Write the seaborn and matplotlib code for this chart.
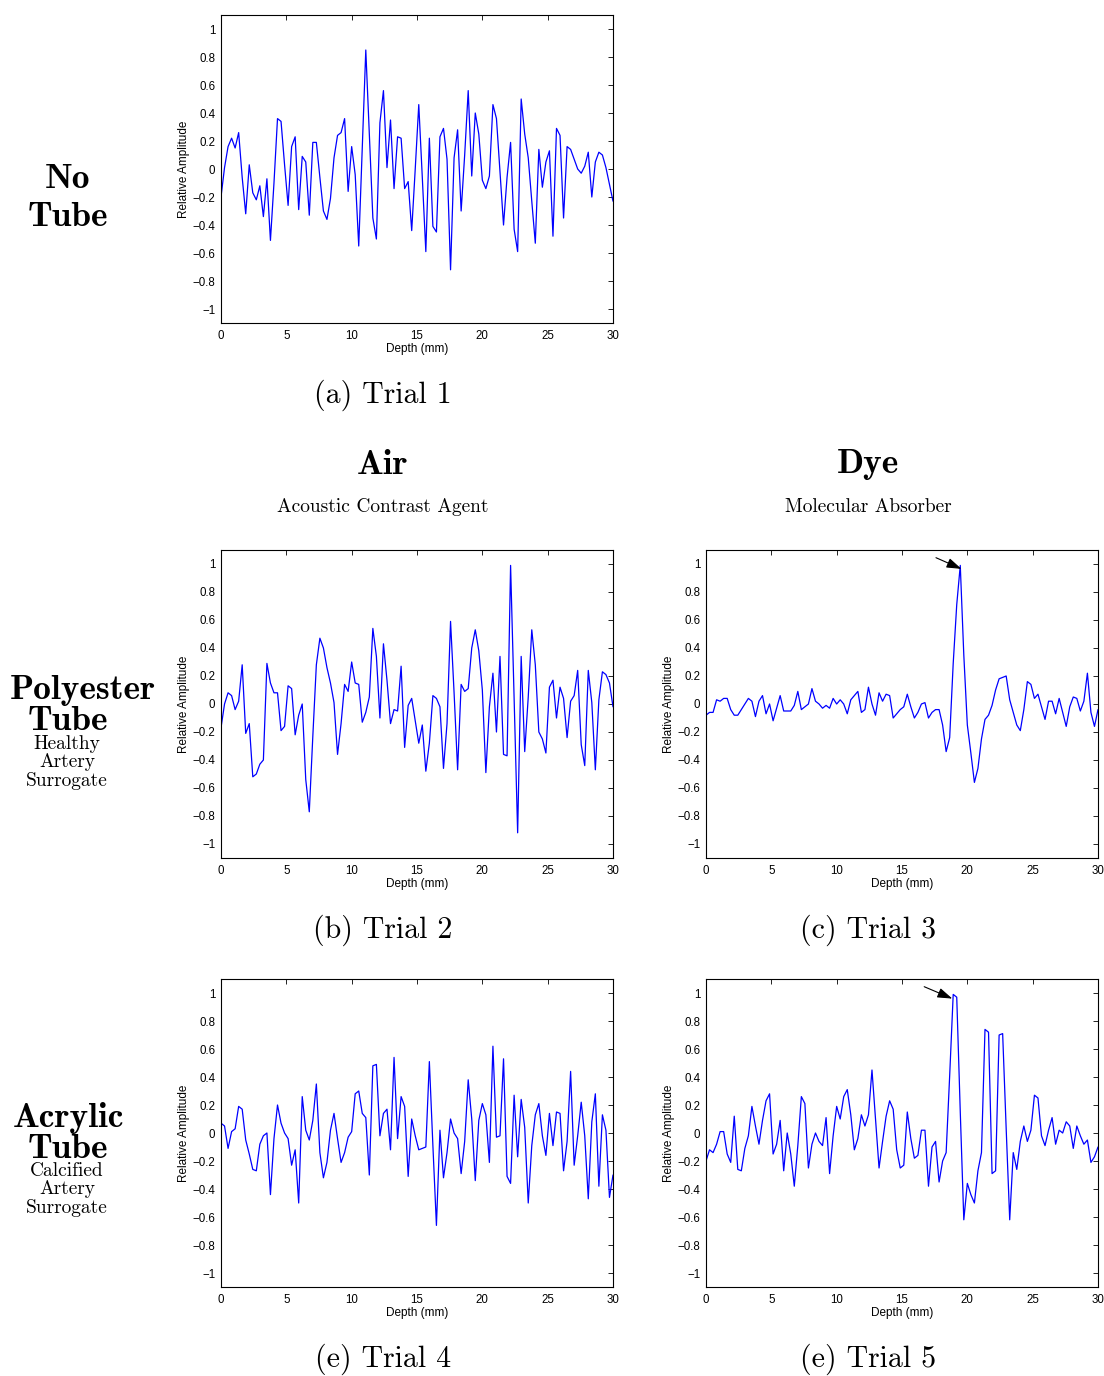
import numpy as np
import pandas as pd
import matplotlib
matplotlib.use("Agg")
import matplotlib.pyplot as plt
import seaborn as sns

# ---------------- data ----------------
trial1_no_tube = [
    -0.20, 0.01, 0.16, 0.22, 0.15, 0.26, -0.06, -0.32, 0.03, -0.17,
    -0.22, -0.12, -0.34, -0.07, -0.51, -0.10, 0.36, 0.34, 0.03, -0.26,
    0.16, 0.23, -0.29, 0.09, 0.05, -0.33, 0.19, 0.19, -0.06, -0.30,
    -0.36, -0.21, 0.08, 0.24, 0.26, 0.36, -0.16, 0.16, -0.04, -0.55,
    0.15, 0.85, 0.25, -0.35, -0.50, 0.33, 0.56, 0.01, 0.35, -0.14,
    0.23, 0.22, -0.14, -0.09, -0.44, 0.00, 0.46, -0.06, -0.59, 0.22,
    -0.41, -0.45, 0.23, 0.29, 0.07, -0.72, 0.08, 0.28, -0.30, 0.10,
    0.56, -0.05, 0.40, 0.25, -0.08, -0.14, -0.05, 0.46, 0.36, -0.02,
    -0.40, -0.06, 0.19, -0.43, -0.59, 0.50, 0.25, 0.08, -0.23, -0.53,
    0.14, -0.13, 0.05, 0.13, -0.48, 0.29, 0.24, -0.35, 0.16, 0.14,
    0.07, 0.00, -0.03, 0.02, 0.12, -0.20, 0.05, 0.12, 0.10, 0.01,
    -0.11, -0.23]

trial2_polyester_air = [
    -0.17, 0.00, 0.08, 0.06, -0.04, 0.02, 0.28, -0.21, -0.14, -0.52,
    -0.50, -0.43, -0.40, 0.29, 0.15, 0.08, 0.08, -0.19, -0.16, 0.13,
    0.11, -0.22, -0.08, 0.00, -0.54, -0.77, -0.23, 0.28, 0.47, 0.40,
    0.26, 0.15, 0.01, -0.36, -0.14, 0.14, 0.09, 0.30, 0.15, 0.14,
    -0.13, -0.06, 0.05, 0.54, 0.34, -0.10, 0.43, 0.17, -0.14, -0.04,
    -0.05, 0.27, -0.31, -0.01, 0.04, -0.12, -0.28, -0.15, -0.48, -0.28,
    0.06, 0.04, -0.02, -0.46, -0.14, 0.59, 0.08, -0.47, 0.14, 0.09,
    0.11, 0.40, 0.53, 0.38, 0.10, -0.49, -0.02, 0.22, -0.20, 0.34,
    -0.36, -0.37, 0.99, 0.04, -0.92, 0.34, -0.34, 0.05, 0.53, 0.28,
    -0.20, -0.25, -0.35, 0.12, 0.17, -0.10, 0.12, 0.04, -0.24, 0.02,
    0.06, 0.24, -0.29, -0.44, 0.24, 0.01, -0.47, 0.03, 0.23, 0.21,
    0.15, -0.02]

trial3_polyester_dye = [
    -0.08, -0.06, -0.06, 0.03, 0.02, 0.04, 0.04, -0.04, -0.08, -0.08,
    -0.04, 0.00, 0.04, 0.02, -0.09, 0.02, 0.06, -0.07, 0.00, -0.12,
    -0.03, 0.06, -0.05, -0.05, -0.05, -0.01, 0.09, -0.04, -0.02, 0.00,
    0.11, 0.02, 0.00, -0.03, -0.01, -0.03, 0.04, 0.00, 0.03, 0.00,
    -0.07, 0.03, 0.06, 0.09, -0.06, -0.04, 0.12, 0.00, -0.08, 0.08,
    0.02, 0.07, 0.06, -0.10, -0.07, -0.04, -0.02, 0.07, -0.02, -0.10,
    -0.06, 0.00, 0.01, -0.10, -0.06, -0.04, -0.04, -0.15, -0.34, -0.24,
    0.29, 0.71, 0.99, 0.35, -0.15, -0.35, -0.56, -0.46, -0.25, -0.11,
    -0.08, -0.01, 0.10, 0.18, 0.19, 0.20, 0.03, -0.06, -0.15, -0.19,
    -0.04, 0.16, 0.14, 0.04, 0.07, -0.02, -0.11, 0.02, 0.02, -0.07,
    0.04, -0.06, -0.16, -0.02, 0.05, 0.04, -0.05, 0.02, 0.22, -0.06,
    -0.16, -0.04]

trial4_acrylic_air = [
    0.07, 0.05, -0.11, 0.01, 0.03, 0.19, 0.17, -0.05, -0.15, -0.26,
    -0.27, -0.08, -0.02, 0.00, -0.44, -0.04, 0.20, 0.07, 0.00, -0.04,
    -0.23, -0.12, -0.50, 0.26, 0.02, -0.05, 0.09, 0.35, -0.14, -0.32,
    -0.21, 0.02, 0.14, -0.04, -0.21, -0.14, -0.03, 0.01, 0.28, 0.30,
    0.14, 0.11, -0.30, 0.48, 0.49, -0.02, 0.14, 0.17, -0.12, 0.54,
    -0.04, 0.26, 0.19, -0.31, 0.10, -0.02, -0.12, -0.11, -0.10, 0.51,
    -0.09, -0.66, 0.02, -0.32, -0.14, 0.10, 0.00, -0.04, -0.29, -0.06,
    0.38, 0.10, -0.34, 0.09, 0.21, 0.13, -0.21, 0.62, -0.03, -0.02,
    0.53, -0.31, -0.36, 0.27, -0.17, 0.24, 0.04, -0.50, -0.09, 0.13,
    0.21, -0.02, -0.16, 0.14, -0.09, 0.15, 0.14, -0.27, -0.06, 0.44,
    -0.23, -0.02, 0.22, -0.02, -0.47, 0.08, 0.28, -0.38, 0.13, 0.02,
    -0.46, -0.30]

trial5_acrylic_dye = [
    -0.20, -0.12, -0.14, -0.08, 0.01, 0.01, -0.15, -0.21, 0.12, -0.26,
    -0.27, -0.11, -0.02, 0.19, 0.05, -0.08, 0.09, 0.23, 0.28, -0.15,
    -0.08, 0.09, -0.27, 0.00, -0.15, -0.38, -0.09, 0.26, 0.21, -0.25,
    -0.08, 0.00, -0.06, -0.09, 0.11, -0.29, -0.02, 0.19, 0.10, 0.26,
    0.31, 0.13, -0.12, -0.04, 0.13, 0.05, 0.13, 0.45, 0.10, -0.25,
    -0.06, 0.12, 0.23, 0.17, -0.12, -0.25, -0.23, 0.15, -0.04, -0.18,
    -0.16, 0.02, 0.02, -0.38, -0.10, -0.06, -0.35, -0.20, -0.14, 0.41,
    0.99, 0.97, 0.15, -0.62, -0.36, -0.44, -0.50, -0.27, -0.14, 0.74,
    0.72, -0.29, -0.27, 0.70, 0.71, 0.03, -0.62, -0.14, -0.26, -0.06,
    0.05, -0.06, 0.02, 0.27, 0.25, -0.02, -0.09, 0.02, 0.11, -0.08,
    0.02, 0.00, 0.08, 0.05, -0.11, 0.05, -0.02, -0.08, -0.05, -0.21,
    -0.17, -0.10]

x_ticks = [0, 5, 10, 15, 20, 25, 30]
y_ticks = [-1, -0.8, -0.6, -0.4, -0.2, 0, 0.2, 0.4, 0.6, 0.8, 1]
y_tick_labels = ["\u22121", "\u22120.8", "\u22120.6", "\u22120.4", "\u22120.2", "0",
                 "0.2", "0.4", "0.6", "0.8", "1"]
x_label = "Depth (mm)"
y_label = "Relative Amplitude"

# ---------------- figure ----------------
sns.set_style("white")
plt.rcParams["font.family"] = ["Liberation Sans", "DejaVu Sans"]
plt.rcParams["text.color"] = "black"
plt.rcParams["axes.labelcolor"] = "black"
plt.rcParams["xtick.color"] = "black"
plt.rcParams["ytick.color"] = "black"

W, H = 1104, 1376
fig = plt.figure(figsize=(W / 100, H / 100), dpi=100)


def box(l, t, r, b):
    return [l / W, 1 - b / H, (r - l) / W, (b - t) / H]


def make_panel(rect, values):
    ax = fig.add_axes(rect)
    n = len(values)
    df = pd.DataFrame({"depth": np.linspace(0, 30, n), "amp": values})
    sns.lineplot(data=df, x="depth", y="amp", ax=ax, color="#0000FF",
                 linewidth=0.9, legend=False)
    ax.set_xlim(0, 30)
    ax.set_ylim(-1.1, 1.1)
    ax.set_xticks(x_ticks)
    ax.set_xticklabels([str(t) for t in x_ticks])
    ax.set_yticks(y_ticks)
    ax.set_yticklabels(y_tick_labels)
    ax.tick_params(direction="in", top=True, right=True, length=3.5,
                   width=0.6, labelsize=8.3, colors="black")
    ax.tick_params(axis="x", pad=5)
    ax.tick_params(axis="y", pad=4)
    for s in ax.spines.values():
        s.set_visible(True)
        s.set_color("black")
        s.set_linewidth(0.8)
    ax.set_xlabel(x_label, fontsize=8.5, labelpad=1, color="black")
    ax.set_ylabel(y_label, fontsize=8.5, labelpad=2, color="black")
    return ax


ax_a = make_panel(box(221, 15, 613, 323), trial1_no_tube)
ax_b = make_panel(box(221, 550, 613, 858), trial2_polyester_air)
ax_c = make_panel(box(706, 550, 1098, 858), trial3_polyester_dye)
ax_d = make_panel(box(221, 979, 613, 1287), trial4_acrylic_air)
ax_e = make_panel(box(706, 979, 1098, 1287), trial5_acrylic_dye)

arrow = dict(arrowstyle="-|>,head_length=0.9,head_width=0.3", color="black",
             lw=0.8, shrinkA=0, shrinkB=0)
ax_c.annotate("", xy=(19.55, 0.965), xytext=(17.6, 1.045), arrowprops=arrow)
ax_e.annotate("", xy=(18.85, 0.96), xytext=(16.7, 1.045), arrowprops=arrow)

# ---------------- text ----------------
REG = "cmr10"
BOLD = "cmb10"


def ftext(x, y, s, size, family, **kw):
    fig.text(x / W, 1 - y / H, s, fontsize=size, family=family,
             ha="center", va="center", color="black", **kw)


# captions
CAP = 21.5
ftext(383, 395, "(a) Trial 1", CAP, REG)
ftext(383, 930, "(b) Trial 2", CAP, REG)
ftext(868, 930, "(c) Trial 3", CAP, REG)
ftext(383, 1359, "(e) Trial 4", CAP, REG)
ftext(868, 1359, "(e) Trial 5", CAP, REG)

# column headers
HEAD = 25.5
SUB = 14
ftext(383, 465, "Air", HEAD, BOLD)
ftext(868, 465, "Dye", HEAD, BOLD)
ftext(383, 507, "Acoustic Contrast Agent", SUB, REG)
ftext(868, 507, "Molecular Absorber", SUB, REG)

# row headers
ftext(68, 179, "No", HEAD, BOLD)
ftext(68, 217, "Tube", HEAD, BOLD)

ftext(83, 691, "Polyester", HEAD, BOLD)
ftext(68, 721, "Tube", HEAD, BOLD)
ftext(67, 744, "Healthy", SUB, REG)
ftext(67, 762, "Artery", SUB, REG)
ftext(67, 781, "Surrogate", SUB, REG)

ftext(68, 1118, "Acrylic", HEAD, BOLD)
ftext(68, 1149, "Tube", HEAD, BOLD)
ftext(67, 1171, "Calcified", SUB, REG)
ftext(67, 1189, "Artery", SUB, REG)
ftext(67, 1208, "Surrogate", SUB, REG)

fig.savefig("out.png", dpi=100)
